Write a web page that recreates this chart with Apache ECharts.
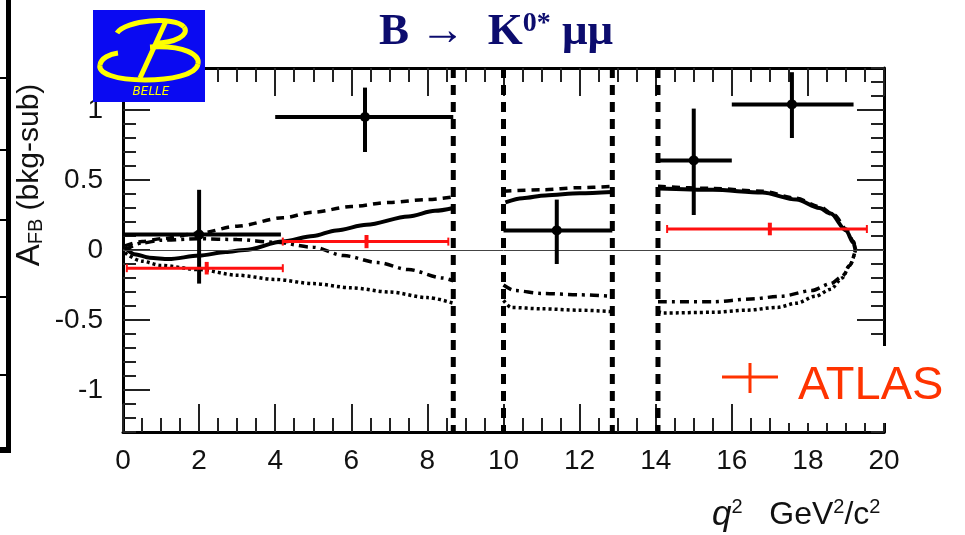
<!DOCTYPE html>
<html>
<head>
<meta charset="utf-8">
<script src="https://cdn.jsdelivr.net/npm/echarts@6/dist/echarts.min.js"></script>
<style>
html, body { margin: 0; padding: 0; background: #fff; }
#main { width: 965px; height: 535px; }
</style>
</head>
<body>
<div id="main"></div>
<script>
// axis ranges / tick labels
var xMin = 0, xMax = 20;
var yMin = -1.3, yMax = 1.3;
var xTickValues = [0, 2, 4, 6, 8, 10, 12, 14, 16, 18, 20];
var yTickValues = [-1, -0.5, 0, 0.5, 1];

// charmonium veto boundaries (q^2)
var vetoEdges = [8.68, 10.0, 12.86, 14.06];

// Belle measured points
var belleQ    = [2.0, 6.36, 11.4, 15.0, 17.58];
var belleA    = [0.11, 0.95, 0.14, 0.64, 1.04];
var belleQLo  = [0.0, 4.0, 10.0, 14.06, 16.0];
var belleQHi  = [4.15, 8.68, 12.86, 16.0, 19.2];
var belleALo  = [-0.24, 0.70, -0.10, 0.25, 0.80];
var belleAHi  = [0.43, 1.16, 0.36, 1.01, 1.27];

// ATLAS points
var atlasQ   = [2.2, 6.4, 17.0];
var atlasA   = [-0.13, 0.06, 0.15];
var atlasQLo = [0.1, 4.2, 14.3];
var atlasQHi = [4.2, 8.55, 19.55];
var atlasErr = [0.045, 0.047, 0.045];

// theory curves, '-' breaks the line between regions
var smCurve = [
  [0.05, 0.02], [0.3, -0.03], [0.7, -0.055], [1.2, -0.065], [2.0, -0.04], [2.7, -0.015],
  [3.2, 0.0], [4.2, 0.06], [5.0, 0.10], [5.6, 0.14], [6.4, 0.18], [7.5, 0.24], [8.2, 0.28], [8.68, 0.30],
  [9.3, '-'],
  [10.05, 0.34], [10.5, 0.37], [11.1, 0.39], [12.0, 0.405], [12.85, 0.415],
  [13.5, '-'],
  [14.06, 0.44], [15.5, 0.43], [16.8, 0.41], [17.7, 0.36], [18.3, 0.30], [18.6, 0.26],
  [19.0, 0.14], [19.2, 0.05], [19.25, 0.0]
];
var c7FlipCurve = [
  [0.05, 0.03], [0.5, 0.06], [1.0, 0.08], [2.0, 0.12], [3.0, 0.17], [4.2, 0.23], [5.0, 0.27],
  [6.0, 0.31], [7.0, 0.34], [8.0, 0.36], [8.68, 0.38],
  [9.3, '-'],
  [10.0, 0.42], [11.0, 0.43], [12.0, 0.445], [12.85, 0.455],
  [13.5, '-'],
  [14.06, 0.455], [15.5, 0.44], [16.8, 0.42], [17.7, 0.37], [18.3, 0.31], [18.7, 0.25],
  [19.0, 0.15], [19.2, 0.06], [19.25, 0.0]
];
var c9FlipCurve = [
  [0.05, 0.0], [0.5, 0.05], [1.0, 0.07], [2.0, 0.08], [3.0, 0.075], [4.0, 0.055], [5.0, 0.02],
  [5.8, -0.04], [6.7, -0.09], [7.5, -0.14], [8.4, -0.20], [8.68, -0.22],
  [9.3, '-'],
  [10.0, -0.25], [10.3, -0.29], [11.0, -0.31], [12.0, -0.32], [12.85, -0.33],
  [13.5, '-'],
  [14.06, -0.37], [15.5, -0.37], [16.5, -0.35], [17.3, -0.33], [18.1, -0.29], [18.6, -0.24],
  [18.9, -0.19], [19.1, -0.11], [19.25, 0.0]
];
var bothFlipCurve = [
  [0.05, -0.02], [0.5, -0.08], [1.0, -0.11], [2.0, -0.14], [3.0, -0.18], [4.0, -0.21], [5.0, -0.24],
  [6.0, -0.27], [7.0, -0.30], [8.0, -0.34], [8.68, -0.38],
  [9.3, '-'],
  [10.0, -0.36], [10.2, -0.41], [11.0, -0.42], [12.0, -0.43], [12.85, -0.44],
  [13.5, '-'],
  [14.06, -0.44], [14.2, -0.45], [15.5, -0.445], [16.4, -0.43], [17.2, -0.41], [17.7, -0.38],
  [18.2, -0.33], [18.6, -0.28], [18.9, -0.20], [19.1, -0.11], [19.25, 0.0]
];

var labelFont = 'Liberation Sans';

function curve(name, data, dash, width) {
  return {
    name: name, type: 'line', data: data, showSymbol: false, smooth: 0.3, smoothMonotone: 'x',
    connectNulls: false, silent: true, z: 3,
    lineStyle: { color: '#000', width: width, type: dash }
  };
}

function xAxisDef(pos, labels) {
  return {
    type: 'value', position: pos, min: xMin, max: xMax, interval: 2,
    axisLine: { show: true, onZero: false, lineStyle: { color: '#000', width: 3 } },
    axisTick: { inside: true, length: 28, lineStyle: { color: '#222', width: 2 } },
    minorTick: { show: true, splitNumber: 4, length: 14, lineStyle: { color: '#222', width: 2 } },
    axisLabel: { show: labels, customValues: xTickValues, margin: 15, fontSize: 28, color: '#111', fontFamily: labelFont },
    splitLine: { show: false }
  };
}

function yAxisDef(pos, major, showLine, labels) {
  var ax = {
    type: 'value', position: pos, min: yMin, max: yMax,
    axisLine: { show: showLine, onZero: false, lineStyle: { color: '#000', width: 3 } },
    axisTick: { inside: true, length: major ? 27 : 13, lineStyle: { color: '#222', width: 2 } },
    axisLabel: { show: labels, customValues: yTickValues, margin: 20, fontSize: 28, color: '#111', fontFamily: labelFont },
    splitLine: { show: false }
  };
  if (major) ax.axisTick.customValues = yTickValues;
  else ax.interval = 0.1;
  return ax;
}

function logoCurve(p) {
  return { type: 'bezierCurve', z: 51,
    shape: { x1: p[0], y1: p[1], cpx1: p[2], cpy1: p[3], cpx2: p[4], cpy2: p[5], x2: p[6], y2: p[7] },
    style: { fill: null, stroke: '#ffff00', lineWidth: 5 } };
}

var chart = echarts.init(document.getElementById('main'));
chart.setOption({
  animation: false,
  backgroundColor: '#fff',
  grid: { left: 123, right: 81, top: 68, bottom: 103 },
  xAxis: [xAxisDef('bottom', true), xAxisDef('top', false)],
  yAxis: [
    yAxisDef('left', false, true, true),
    yAxisDef('left', true, false, false),
    yAxisDef('right', false, true, false),
    yAxisDef('right', true, false, false)
  ],
  series: [
    curve('SM', smCurve, 'solid', 4),
    curve('C7 flip', c7FlipCurve, [8, 6], 3.5),
    curve('C9C10 flip', c9FlipCurve, [9, 5, 3, 5], 3.5),
    curve('both flip', bothFlipCurve, [3, 3], 3.5),
    {
      name: 'veto', type: 'custom', silent: true, z: 4,
      data: vetoEdges.map(function (q) { return [q, 0]; }),
      renderItem: function (params, api) {
        var top = api.coord([api.value(0), yMax]);
        var bot = api.coord([api.value(0), yMin]);
        return { type: 'line', shape: { x1: top[0], y1: top[1], x2: bot[0], y2: bot[1] },
          style: { stroke: '#000', lineWidth: 5, lineDash: [10, 7] } };
      },
      markLine: {
        silent: true, symbol: 'none', label: { show: false },
        lineStyle: { color: '#444', width: 1, type: 'solid' },
        data: [{ yAxis: 0 }]
      }
    },
    {
      name: 'Belle', type: 'custom', silent: true, z: 5,
      data: belleQ.map(function (q, i) {
        return [q, belleA[i], belleQLo[i], belleQHi[i], belleALo[i], belleAHi[i]];
      }),
      encode: { x: 0, y: 1 },
      renderItem: function (params, api) {
        var c = api.coord([api.value(0), api.value(1)]);
        var l = api.coord([api.value(2), api.value(1)]);
        var r = api.coord([api.value(3), api.value(1)]);
        var lo = api.coord([api.value(0), api.value(4)]);
        var hi = api.coord([api.value(0), api.value(5)]);
        return { type: 'group', children: [
          { type: 'line', shape: { x1: l[0], y1: l[1], x2: r[0], y2: r[1] }, style: { stroke: '#000', lineWidth: 4 } },
          { type: 'line', shape: { x1: lo[0], y1: lo[1], x2: hi[0], y2: hi[1] }, style: { stroke: '#000', lineWidth: 4 } },
          { type: 'circle', shape: { cx: c[0], cy: c[1], r: 5 }, style: { fill: '#000' } }
        ] };
      }
    },
    {
      name: 'ATLAS', type: 'custom', silent: true, z: 6,
      data: atlasQ.map(function (q, i) {
        return [q, atlasA[i], atlasQLo[i], atlasQHi[i], atlasErr[i]];
      }),
      encode: { x: 0, y: 1 },
      renderItem: function (params, api) {
        var red = '#ff1010';
        var l = api.coord([api.value(2), api.value(1)]);
        var r = api.coord([api.value(3), api.value(1)]);
        var lo = api.coord([api.value(0), api.value(1) - api.value(4)]);
        var hi = api.coord([api.value(0), api.value(1) + api.value(4)]);
        return { type: 'group', children: [
          { type: 'line', shape: { x1: l[0], y1: l[1], x2: r[0], y2: r[1] }, style: { stroke: red, lineWidth: 3 } },
          { type: 'line', shape: { x1: l[0], y1: l[1] - 4, x2: l[0], y2: l[1] + 4 }, style: { stroke: red, lineWidth: 2 } },
          { type: 'line', shape: { x1: r[0], y1: r[1] - 4, x2: r[0], y2: r[1] + 4 }, style: { stroke: red, lineWidth: 2 } },
          { type: 'line', shape: { x1: lo[0], y1: lo[1], x2: hi[0], y2: hi[1] }, style: { stroke: red, lineWidth: 4 } }
        ] };
      }
    }
  ],
  graphic: [
    // frame remnant on the left edge
    { type: 'rect', z: 50, shape: { x: 6, y: 0, width: 5, height: 453 }, style: { fill: '#000' } },
    { type: 'rect', z: 50, shape: { x: 0, y: 447, width: 11, height: 6 }, style: { fill: '#000' } },
    { type: 'rect', z: 50, shape: { x: 0, y: 77, width: 8, height: 2 }, style: { fill: '#000' } },
    { type: 'rect', z: 50, shape: { x: 0, y: 149, width: 8, height: 2 }, style: { fill: '#000' } },
    { type: 'rect', z: 50, shape: { x: 0, y: 219, width: 8, height: 2 }, style: { fill: '#000' } },
    { type: 'rect', z: 50, shape: { x: 0, y: 296, width: 8, height: 2 }, style: { fill: '#000' } },
    { type: 'rect', z: 50, shape: { x: 0, y: 374, width: 8, height: 2 }, style: { fill: '#000' } },
    // Belle logo
    { type: 'rect', z: 50, shape: { x: 93, y: 10, width: 112, height: 92 }, style: { fill: '#0a0af2' } },
    logoCurve([117, 33, 125, 20, 175, 16, 184, 27]),
    logoCurve([184, 27, 190, 35, 175, 43, 155, 43]),
    logoCurve([150, 47, 185, 45, 200, 55, 198, 64]),
    logoCurve([198, 64, 196, 75, 170, 80, 145, 80]),
    logoCurve([145, 80, 115, 80, 98, 73, 100, 65]),
    logoCurve([100, 65, 101, 58, 110, 54, 118, 53]),
    { type: 'line', z: 51, shape: { x1: 166, y1: 21, x2: 140, y2: 78 }, style: { stroke: '#ffff00', lineWidth: 5 } },
    { type: 'text', z: 51, x: 151, y: 92, style: { text: 'BELLE', fill: '#ffff00', font: 'italic 12px "DejaVu Sans"', textAlign: 'center', textVerticalAlign: 'middle' } },
    // title
    { type: 'text', z: 50, x: 496, y: 32, style: {
      text: '{b|B }{a|→  }{b|K}{s|0*}{b| μμ}', textAlign: 'center', textVerticalAlign: 'middle', fill: '#0c0c6e',
      rich: {
        b: { fontSize: 45, fontWeight: 'bold', fontFamily: 'Liberation Serif', fill: '#0c0c6e' },
        a: { fontSize: 45, fontFamily: 'Liberation Serif', fill: '#0c0c6e' },
        s: { fontSize: 28, fontWeight: 'bold', fontFamily: 'Liberation Serif', fill: '#0c0c6e', verticalAlign: 'top' }
      } } },
    // y axis title
    { type: 'text', z: 50, x: 30, y: 175, rotation: Math.PI / 2, style: {
      text: '{a|A}{s|FB}{t| (bkg-sub)}', textAlign: 'center', textVerticalAlign: 'middle', fill: '#111',
      rich: {
        a: { fontSize: 33, fontFamily: labelFont, fill: '#111' },
        s: { fontSize: 20, fontFamily: labelFont, fill: '#111', verticalAlign: 'bottom' },
        t: { fontSize: 30, fontFamily: labelFont, fill: '#111' }
      } } },
    // x axis title
    { type: 'text', z: 50, x: 712, y: 515, style: {
      text: '{q|q}{s|2}{n|   GeV}{s|2}{n|/c}{s|2}', textAlign: 'left', textVerticalAlign: 'middle', fill: '#111',
      rich: {
        q: { fontSize: 35, fontStyle: 'italic', fontFamily: labelFont, fill: '#111' },
        n: { fontSize: 32, fontFamily: labelFont, fill: '#111' },
        s: { fontSize: 20, fontFamily: labelFont, fill: '#111', verticalAlign: 'top' }
      } } },
    // ATLAS legend pasted over the corner
    { type: 'rect', z: 50, shape: { x: 778, y: 346, width: 187, height: 77 }, style: { fill: '#fff' } },
    { type: 'line', z: 51, shape: { x1: 722, y1: 377, x2: 778, y2: 377 }, style: { stroke: '#ff3300', lineWidth: 3 } },
    { type: 'line', z: 51, shape: { x1: 750, y1: 363, x2: 750, y2: 393 }, style: { stroke: '#ff3300', lineWidth: 3 } },
    { type: 'text', z: 51, x: 798, y: 386, style: { text: 'ATLAS', fill: '#ff3300', font: '47px "Liberation Sans"', textAlign: 'left', textVerticalAlign: 'middle' } }
  ]
});
</script>
</body>
</html>
